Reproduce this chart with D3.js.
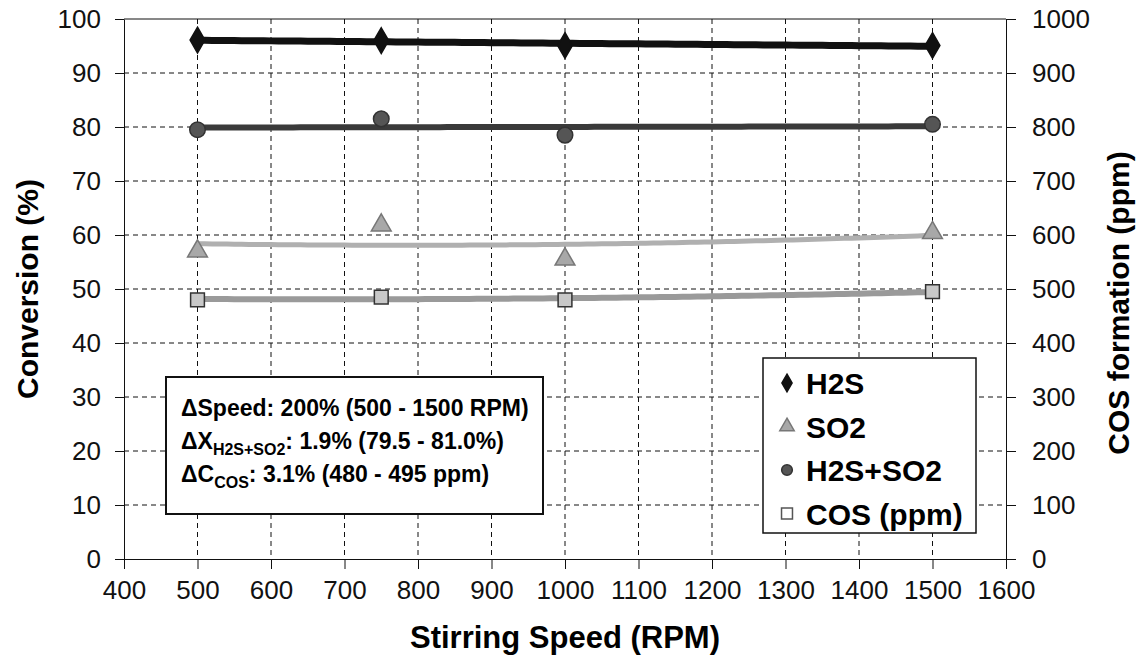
<!DOCTYPE html>
<html>
<head>
<meta charset="utf-8">
<script src="https://cdn.jsdelivr.net/npm/d3@7"></script>
<style>
  body { margin: 0; background: #fff; }
  svg { display: block; font-family: "Liberation Sans", Arial, sans-serif; }
</style>
</head>
<body>
<div class="canvas"></div>
<script>
// data
const speeds = [500, 750, 1000, 1500]
const h2s = [96.1, 96.0, 95.1, 95.1]
const so2 = [57.0, 61.8, 55.5, 60.4]
const h2sSo2 = [79.5, 81.5, 78.5, 80.5]
const cosPpm = [480, 485, 480, 495]

const xTicks = d3.range(400, 1601, 100)
const yTicks = d3.range(0, 101, 10)
const y2Ticks = d3.range(0, 1001, 100)
const legendOrder = ['H2S', 'SO2', 'H2S+SO2', 'COS (ppm)']

const width = 1140
const height = 661
const margin = { top: 19, right: 134, bottom: 102, left: 124 }
const graphWidth = width - margin.left - margin.right
const graphHeight = height - margin.top - margin.bottom

const svg = d3.select('.canvas')
  .append('svg')
  .attr('width', width)
  .attr('height', height)

const graph = svg.append('g')
  .attr('transform', `translate(${margin.left}, ${margin.top})`)

// scales
const x = d3.scaleLinear().domain([400, 1600]).range([0, graphWidth])
const y = d3.scaleLinear().domain([0, 100]).range([graphHeight, 0])
const y2 = d3.scaleLinear().domain([0, 1000]).range([graphHeight, 0])

// grid
graph.append('g').selectAll('line')
  .data(yTicks.filter(d => d > 0 && d < 100))
  .enter().append('line')
  .attr('x1', 0).attr('x2', graphWidth)
  .attr('y1', d => y(d)).attr('y2', d => y(d))
  .attr('stroke', '#111').attr('stroke-dasharray', '5,4')

graph.append('g').selectAll('line')
  .data(xTicks.filter(d => d > 400 && d < 1600))
  .enter().append('line')
  .attr('y1', 0).attr('y2', graphHeight)
  .attr('x1', d => x(d)).attr('x2', d => x(d))
  .attr('stroke', '#111').attr('stroke-dasharray', '5,4')

graph.append('line')
  .attr('x1', 0).attr('x2', graphWidth)
  .attr('y1', 0).attr('y2', 0)
  .attr('stroke', '#111')

// axes
const tickFont = g => g.selectAll('text')
  .attr('font-size', 26).attr('fill', '#111')
  .attr('font-family', '"Liberation Sans", Arial, sans-serif')

const axisStyle = g => {
  g.select('.domain').attr('stroke', '#111')
  g.selectAll('.tick line').attr('stroke', '#111')
}

graph.append('g')
  .attr('transform', `translate(0, ${graphHeight})`)
  .call(d3.axisBottom(x).tickValues(xTicks).tickFormat(d3.format('d')).tickSize(10).tickSizeOuter(0).tickPadding(12))
  .call(axisStyle).call(tickFont)

graph.append('g')
  .call(d3.axisLeft(y).tickValues(yTicks).tickFormat(d3.format('d')).tickSize(9).tickSizeOuter(0).tickPadding(14))
  .call(axisStyle).call(tickFont)

graph.append('g')
  .attr('transform', `translate(${graphWidth}, 0)`)
  .call(d3.axisRight(y2).tickValues(y2Ticks).tickFormat(d3.format('d')).tickSize(10).tickSizeOuter(0).tickPadding(16))
  .call(axisStyle).call(tickFont)

// least squares trend (poly order n)
const trend = (xs, ys, order) => {
  const n = order + 1
  const A = d3.range(n).map(i => d3.range(n).map(j => d3.sum(xs, v => Math.pow(v / 1000, i + j))))
  const b = d3.range(n).map(i => d3.sum(xs, (v, k) => ys[k] * Math.pow(v / 1000, i)))
  // gaussian elimination
  for (let i = 0; i < n; i++) {
    for (let k = i + 1; k < n; k++) {
      const f = A[k][i] / A[i][i]
      for (let j = i; j < n; j++) A[k][j] -= f * A[i][j]
      b[k] -= f * b[i]
    }
  }
  const c = new Array(n).fill(0)
  for (let i = n - 1; i >= 0; i--) {
    let s = b[i]
    for (let j = i + 1; j < n; j++) s -= A[i][j] * c[j]
    c[i] = s / A[i][i]
  }
  return v => d3.sum(c, (ci, i) => ci * Math.pow(v / 1000, i))
}

const series = [
  { name: 'COS (ppm)', values: cosPpm, scale: y2, order: 2, line: '#9a9a9a', lw: 6, symbol: d3.symbolSquare, fill: '#c8c8c8', stroke: '#333', size: 190 },
  { name: 'SO2', values: so2, scale: y, order: 2, line: '#b0b0b0', lw: 5, symbol: d3.symbolTriangle, fill: '#a8a8a8', stroke: '#777', size: 170 },
  { name: 'H2S+SO2', values: h2sSo2, scale: y, order: 1, line: '#3a3a3a', lw: 6, symbol: d3.symbolCircle, fill: '#555', stroke: '#333', size: 190 },
  { name: 'H2S', values: h2s, scale: y, order: 1, line: '#111', lw: 7, symbol: d3.symbolDiamond, fill: '#111', stroke: '#111', size: 190 }
]

const line = d3.line()

series.forEach(s => {
  const f = trend(speeds, s.values, s.order)
  const pts = d3.range(500, 1501, 10).map(v => [x(v), s.scale(f(v))])
  graph.append('path')
    .attr('d', line(pts))
    .attr('fill', 'none')
    .attr('stroke', s.line)
    .attr('stroke-width', s.lw)

  graph.append('g').selectAll('path')
    .data(speeds)
    .enter().append('path')
    .attr('d', d3.symbol().type(s.symbol).size(s.size))
    .attr('transform', (d, i) => `translate(${x(d)}, ${s.scale(s.values[i])})`)
    .attr('fill', s.fill)
    .attr('stroke', s.stroke)
    .attr('stroke-width', 1.5)
})

// axis titles
svg.append('text')
  .attr('x', margin.left + graphWidth / 2).attr('y', 648)
  .attr('text-anchor', 'middle')
  .attr('font-size', 31).attr('font-weight', 'bold')
  .text('Stirring Speed (RPM)')

svg.append('text')
  .attr('transform', `translate(38, ${margin.top + graphHeight / 2}) rotate(-90)`)
  .attr('text-anchor', 'middle')
  .attr('font-size', 30).attr('font-weight', 'bold')
  .text('Conversion (%)')

svg.append('text')
  .attr('transform', `translate(1129, ${margin.top + graphHeight / 2 + 14}) rotate(-90)`)
  .attr('text-anchor', 'middle')
  .attr('font-size', 30).attr('font-weight', 'bold')
  .text('COS formation (ppm)')

// annotation box
const note = svg.append('g').attr('transform', 'translate(166, 377)')
note.append('rect')
  .attr('width', 377).attr('height', 137)
  .attr('fill', '#fff').attr('stroke', '#111').attr('stroke-width', 2)

const noteLines = [
  [['ΔSpeed: 200% (500 - 1500 RPM)', null]],
  [['ΔX', null], ['H2S+SO2', 'sub'], [': 1.9% (79.5 - 81.0%)', null]],
  [['ΔC', null], ['COS', 'sub'], [': 3.1% (480 - 495 ppm)', null]]
]
noteLines.forEach((parts, i) => {
  const t = note.append('text')
    .attr('x', 15).attr('y', 39 + i * 33)
    .attr('font-size', 23).attr('font-weight', 'bold')
  parts.forEach(([str, kind]) => {
    const ts = t.append('tspan').text(str)
    if (kind === 'sub') ts.attr('font-size', 16).attr('dy', 6)
    else if (t.selectAll('tspan').size() > 1) ts.attr('dy', -6)
  })
})

// legend
const legend = svg.append('g').attr('transform', 'translate(763, 358)')
legend.append('rect')
  .attr('width', 213).attr('height', 175)
  .attr('fill', '#fff').attr('stroke', '#111').attr('stroke-width', 1.5)

const legendItems = legendOrder.map(name => series.find(s => s.name === name))
legendItems.forEach((s, i) => {
  const cy = 25 + i * 43.5
  const hollow = s.name === 'COS (ppm)'
  legend.append('path')
    .attr('d', d3.symbol().type(s.symbol).size(hollow ? 120 : 90))
    .attr('transform', `translate(24, ${cy})`)
    .attr('fill', hollow ? '#fff' : s.fill)
    .attr('stroke', hollow ? '#555' : s.stroke)
    .attr('stroke-width', 1.5)
  legend.append('text')
    .attr('x', 43).attr('y', cy + 11)
    .attr('font-size', 30).attr('font-weight', 'bold')
    .text(s.name)
})
</script>
</body>
</html>
